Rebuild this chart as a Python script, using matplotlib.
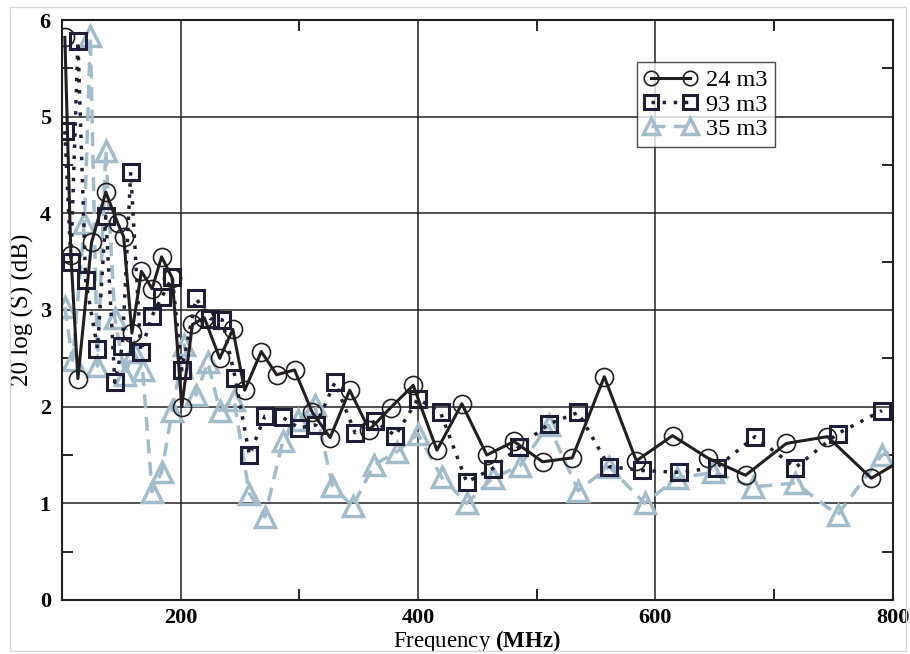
import matplotlib.pyplot as plt
from matplotlib.ticker import MultipleLocator
from matplotlib.patches import Rectangle

plt.rcParams['font.family'] = ['Liberation Serif', 'DejaVu Serif']
plt.rcParams['mathtext.fontset'] = 'custom'
plt.rcParams['mathtext.rm'] = 'Liberation Serif'
plt.rcParams['mathtext.bf'] = 'Liberation Serif:bold'

# 24 m3 room
f_24 = [102.5, 107.6, 113.5, 125, 137, 147, 152, 159, 167, 176, 184, 193, 201, 210,
        220, 233, 244, 254, 268, 281, 296, 311, 326, 342.5, 359, 377, 396, 416, 437,
        458, 481, 505, 530, 557, 584, 614.5, 644, 676, 710.5, 745, 782, 815]
s_24 = [5.82, 3.57, 2.29, 3.7, 4.22, 3.9, 3.76, 2.76, 3.4, 3.22, 3.55, 3.33, 2.0, 2.85,
        2.92, 2.5, 2.8, 2.17, 2.57, 2.33, 2.38, 1.94, 1.68, 2.17, 1.76, 1.99, 2.22, 1.55,
        2.03, 1.5, 1.64, 1.43, 1.47, 2.31, 1.44, 1.7, 1.47, 1.29, 1.62, 1.69, 1.26, 1.5]

# 93 m3 room
f_93 = [102.5, 107.6, 113.5, 120, 130, 137, 144.6, 151, 158, 166.5, 176, 184, 193,
        201, 213, 225, 235, 246, 258, 271, 286, 299.6, 314, 330, 347, 363.6, 381,
        400, 419, 441, 463, 485, 510, 535, 561, 589, 620, 651.6, 684, 718, 753.5, 791]
s_93 = [4.85, 3.5, 5.78, 3.31, 2.6, 3.97, 2.25, 2.63, 4.43, 2.57, 2.94, 3.13, 3.34,
        2.38, 3.12, 2.91, 2.9, 2.3, 1.5, 1.9, 1.89, 1.78, 1.81, 2.25, 1.73, 1.85, 1.7,
        2.08, 1.94, 1.22, 1.36, 1.58, 1.82, 1.94, 1.38, 1.34, 1.32, 1.37, 1.69, 1.37,
        1.72, 1.96]

# 35 m3 room
f_35 = [102.5, 109, 119, 124, 130, 137, 144.6, 153, 160.6, 168, 176, 184, 193, 203,
        213, 223, 233, 245, 258, 271, 286, 299, 313, 328, 345, 363, 382, 400, 420,
        441, 463, 486, 510, 535, 561, 591, 618, 649, 682, 718, 753.5, 791, 815]
s_35 = [3.03, 2.48, 3.9, 5.83, 2.42, 4.65, 2.92, 2.33, 2.57, 2.38, 1.12, 1.32, 1.96,
        2.64, 2.12, 2.46, 1.96, 2.07, 1.1, 0.86, 1.64, 1.86, 2.02, 1.18, 0.97, 1.4,
        1.53, 1.72, 1.27, 1.0, 1.26, 1.39, 1.81, 1.13, 1.38, 1.0, 1.26, 1.32, 1.17,
        1.21, 0.88, 1.5, 1.62]

fig = plt.figure(figsize=(9.1, 6.54), dpi=100)
ax = fig.add_axes([0.068, 0.0826, 0.913, 0.8868])

ax.plot(f_24, s_24, color='#231f20', linestyle='-', linewidth=2.2,
        marker='o', markersize=13, markerfacecolor='none',
        markeredgecolor='#231f20', markeredgewidth=1.2, label='24 m3', zorder=4)
ax.plot(f_93, s_93, color='#1e1e36', linestyle=(0, (1, 2.2)), linewidth=2.5,
        marker='s', markersize=12, markerfacecolor='none',
        markeredgecolor='#1e1e36', markeredgewidth=2.2, label='93 m3', zorder=3)
ax.plot(f_35, s_35, color='#a3bccb', linestyle=(0, (4, 2.5)), linewidth=2.5,
        marker='^', markersize=15, markerfacecolor='none',
        markeredgecolor='#a3bccb', markeredgewidth=2.5, label='35 m3', zorder=2)

ax.set_xlim(100, 800)
ax.set_ylim(0, 6)
ax.xaxis.set_minor_locator(MultipleLocator(100))
ax.yaxis.set_major_locator(MultipleLocator(1))
ax.yaxis.set_minor_locator(MultipleLocator(0.5))
ax.set_xticks([200, 400, 600, 800])
ax.tick_params(which='both', direction='in', top=True, right=True, width=1.2)
ax.tick_params(which='major', length=0, labelsize=16)
ax.tick_params(axis='x', which='major', pad=6)
ax.tick_params(axis='y', which='major', pad=8)
ax.tick_params(which='minor', length=8)
for lab in ax.get_xticklabels() + ax.get_yticklabels():
    lab.set_fontweight('bold')

ax.grid(which='major', color='#231f20', linewidth=1.1)
for sp in ax.spines.values():
    sp.set_linewidth(1.5)
    sp.set_color('#231f20')

ax.set_xlabel('Frequency $\\mathbf{(MHz)}$', fontsize=16.5, labelpad=0)
ax.set_ylabel('20 log (S) (dB)', fontsize=18, labelpad=4)

leg = ax.legend(loc='upper right', bbox_to_anchor=(0.858, 0.928), fontsize=17.5,
                frameon=True, fancybox=False, edgecolor='#231f20', numpoints=2,
                markerscale=0.8, handlelength=2.2, handletextpad=0.35,
                borderpad=0.3, labelspacing=0.1, borderaxespad=0)
leg.get_frame().set_linewidth(1.0)

fig.patches.append(Rectangle((0.011, 0.005), 0.985, 0.985, transform=fig.transFigure,
                             fill=False, edgecolor='#d8d8d8', linewidth=1.0))

fig.savefig('out.png', dpi=100)
